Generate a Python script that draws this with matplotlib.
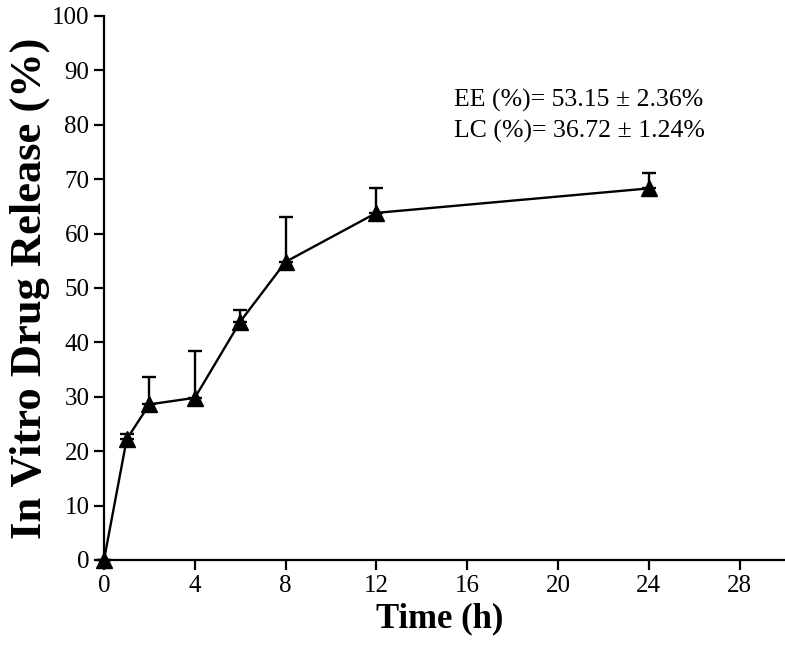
import matplotlib
matplotlib.use('Agg')
import matplotlib.pyplot as plt
import numpy as np

plt.rcParams['font.family'] = 'Liberation Serif'

# Release profile
time_h = [0, 1, 2, 4, 6, 8, 12, 24]
release = [0.0, 22.2, 28.6, 29.8, 43.8, 54.8, 63.8, 68.3]
err_up = [0.0, 0.9, 5.0, 8.6, 2.2, 8.2, 4.6, 2.9]

x_ticks = [0, 4, 8, 12, 16, 20, 24, 28]
y_ticks = list(range(0, 101, 10))

fig = plt.figure(figsize=(7.85, 6.65), dpi=100)
ax = fig.add_axes([0.1325, 0.158, 0.8675, 0.818])

ax.errorbar(time_h, release, yerr=[np.zeros(len(err_up)), err_up],
            color='black', marker='^', markersize=11, linewidth=1.7,
            elinewidth=1.7, capsize=5, capthick=1.7, clip_on=False, zorder=3)

ax.set_xlim(0, 30)
ax.set_ylim(0, 100)
ax.set_xticks(x_ticks)
ax.set_yticks(y_ticks)
ax.spines['top'].set_visible(False)
ax.spines['right'].set_visible(False)
for s in ['left', 'bottom']:
    ax.spines[s].set_linewidth(1.6)
ax.tick_params(direction='out', length=7, width=1.6, labelsize=18)

ax.set_xlabel('Time (h)', fontsize=25, fontweight='bold')
ax.set_ylabel('In Vitro Drug Release (%)', fontsize=32, fontweight='bold')
ax.xaxis.set_label_coords(0.493, -0.077)
ax.yaxis.set_label_coords(-0.08, 0.5)

ax.text(15.4, 84.5, 'EE (%)= 53.15 ± 2.36%', fontsize=18.5, va='center')
ax.text(15.4, 78.7, 'LC (%)= 36.72 ± 1.24%', fontsize=18.5, va='center')

plt.savefig('out.png', dpi=100)
